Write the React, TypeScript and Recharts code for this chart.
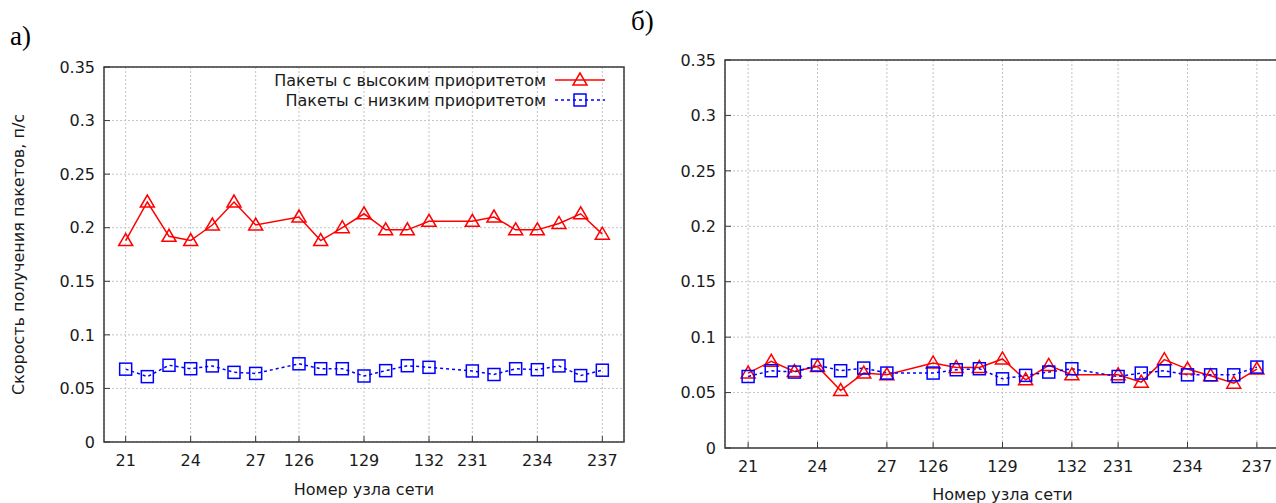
import { LineChart, Line, XAxis, YAxis, CartesianGrid, Legend, Label, ReferenceArea } from 'recharts';

// x slots: blanks separate the three node groups
const nodeSlots = ['21', '22', '23', '24', '25', '26', '27', '', '126', '127', '128', '129', '130', '131', '132', '', '231', '232', '233', '234', '235', '236', '237'];
const tickLabels = ['21', '24', '27', '126', '129', '132', '231', '234', '237'];
const yTicks = [0, 0.05, 0.1, 0.15, 0.2, 0.25, 0.3, 0.35];
const seriesNames = ['Пакеты с высоким приоритетом', 'Пакеты с низким приоритетом'];

// а)
const highA = [0.188, 0.224, 0.192, 0.188, 0.2025, 0.224, 0.2025, null, 0.21, 0.188, 0.2, 0.213, 0.198, 0.198, 0.206, null, 0.206, 0.21, 0.198, 0.198, 0.204, 0.213, 0.194];
const lowA = [0.068, 0.061, 0.0716, 0.0684, 0.071, 0.065, 0.064, null, 0.073, 0.0684, 0.0684, 0.0616, 0.0666, 0.0712, 0.0697, null, 0.0663, 0.063, 0.0684, 0.0675, 0.071, 0.062, 0.067];

// б)
const highB = [0.0676, 0.0782, 0.069, 0.0736, 0.0518, 0.0676, 0.066, null, 0.0767, 0.0727, 0.0727, 0.0803, 0.0615, 0.0745, 0.066, null, 0.066, 0.0594, 0.0797, 0.0712, 0.0652, 0.0585, 0.0712];
const lowB = [0.0645, 0.0697, 0.0685, 0.0748, 0.0697, 0.0721, 0.0676, null, 0.0676, 0.0706, 0.0715, 0.0624, 0.0655, 0.0685, 0.0715, null, 0.0645, 0.0676, 0.0697, 0.066, 0.066, 0.066, 0.073];

const FONT = '"DejaVu Sans", "Liberation Sans", Arial, sans-serif';
const RED = '#ff0000';
const BLUE = '#0000ff';
const BORDER = '#3a3a3a';
const TEXT = '#1a1a1a';
const xTicks = tickLabels.map(l => nodeSlots.indexOf(l));

function Triangle({ cx, cy }: { cx: number; cy: number }) {
  return <polygon points={`${cx},${cy - 7} ${cx - 7},${cy + 5} ${cx + 7},${cy + 5}`} fill="none" stroke={RED} strokeWidth={1.5} />;
}

function Square({ cx, cy }: { cx: number; cy: number }) {
  return <rect x={cx - 6} y={cy - 6} width={12} height={12} fill="none" stroke={BLUE} strokeWidth={1.5} />;
}

const triDot = (p: any) =>
  p.cx == null || p.cy == null || p.value == null ? <g key={`t${p.index}`} /> : <Triangle key={`t${p.index}`} cx={p.cx} cy={p.cy} />;
const sqDot = (p: any) =>
  p.cx == null || p.cy == null || p.value == null ? <g key={`s${p.index}`} /> : <Square key={`s${p.index}`} cx={p.cx} cy={p.cy} />;

function renderLegend() {
  return (
    <div style={{ fontFamily: FONT, fontSize: 16, color: TEXT }}>
      {seriesNames.map((name, i) => (
        <div key={name} style={{ display: 'flex', justifyContent: 'flex-end', alignItems: 'center', height: 20 }}>
          <span>{name}</span>
          <svg width={52} height={20} style={{ marginLeft: 8 }}>
            <line x1={1} x2={51} y1={10} y2={10} stroke={i === 0 ? RED : BLUE} strokeWidth={1.5} strokeDasharray={i === 0 ? undefined : '3 3'} />
            {i === 0 ? <Triangle cx={26} cy={10} /> : <Square cx={26} cy={10} />}
          </svg>
        </div>
      ))}
    </div>
  );
}

interface PanelProps {
  high: (number | null)[];
  low: (number | null)[];
  left: number;
  width: number;
  top: number;
  xAxisHeight: number;
  yAxisWidth: number;
  rightMargin: number;
  titleDy: number;
  yLabel?: string;
  legend?: boolean;
}

const tickLineStyle = { stroke: BORDER, strokeWidth: 1 };

function Panel(p: PanelProps) {
  const data = nodeSlots.map((node, i) => ({ x: i, node, high: p.high[i], low: p.low[i] }));
  return (
    <div style={{ position: 'absolute', left: p.left, top: 0 }}>
      <LineChart width={p.width} height={503} data={data} margin={{ top: p.top, right: p.rightMargin, bottom: 0, left: 0 }}>
        <CartesianGrid stroke="#c4c4c4" strokeDasharray="2 2" />
        <XAxis
          dataKey="x"
          type="number"
          domain={[-1, 23]}
          ticks={xTicks}
          tickFormatter={(v: number) => nodeSlots[v]}
          height={p.xAxisHeight}
          tickSize={-6}
          tickMargin={19}
          tickLine={tickLineStyle}
          axisLine={false}
          tick={{ fill: TEXT, fontSize: 16, fontFamily: FONT }}
          allowDataOverflow
        >
          <Label
            content={(props: any) => {
              const vb = props.viewBox || {};
              return (
                <text x={vb.x + vb.width / 2} y={vb.y + p.titleDy} textAnchor="middle" dominantBaseline="central" fill={TEXT} fontSize={16} fontFamily={FONT}>
                  Номер узла сети
                </text>
              );
            }}
          />
        </XAxis>
        <XAxis
          xAxisId="top"
          orientation="top"
          type="number"
          domain={[-1, 23]}
          ticks={xTicks}
          height={0}
          tick={false}
          tickSize={-6}
          tickLine={tickLineStyle}
          axisLine={false}
          allowDataOverflow
        />
        <YAxis
          type="number"
          domain={[0, 0.35]}
          ticks={yTicks}
          width={p.yAxisWidth}
          tickSize={-6}
          tickMargin={15}
          tickLine={tickLineStyle}
          axisLine={false}
          tick={{ fill: TEXT, fontSize: 16, fontFamily: FONT }}
          allowDataOverflow
        >
          {p.yLabel && (
            <Label
              content={(props: any) => {
                const vb = props.viewBox || {};
                const cx = vb.x + 18;
                const cy = vb.y + vb.height / 2;
                return (
                  <text x={cx} y={cy} transform={`rotate(-90, ${cx}, ${cy})`} textAnchor="middle" dominantBaseline="central" fill={TEXT} fontSize={16} fontFamily={FONT}>
                    {p.yLabel}
                  </text>
                );
              }}
            />
          )}
        </YAxis>
        <YAxis
          yAxisId="right"
          orientation="right"
          type="number"
          domain={[0, 0.35]}
          ticks={yTicks}
          width={0}
          tick={false}
          tickSize={-6}
          tickLine={tickLineStyle}
          axisLine={false}
          allowDataOverflow
        />
        <ReferenceArea x1={-1} x2={23} y1={0} y2={0.35} fill="none" stroke={BORDER} strokeWidth={1.5} ifOverflow="visible" />
        {p.legend && (
          <Legend
            layout="horizontal"
            verticalAlign="middle"
            align="center"
            content={renderLegend}
            wrapperStyle={{ top: 70, left: 220, width: 386 }}
          />
        )}
        <Line
          dataKey="high"
          name={seriesNames[0]}
          stroke={RED}
          strokeWidth={1.5}
          type="linear"
          connectNulls
          dot={triDot}
          activeDot={false}
          isAnimationActive={false}
        />
        <Line
          dataKey="low"
          name={seriesNames[1]}
          stroke={BLUE}
          strokeWidth={1.5}
          strokeDasharray="3 3"
          type="linear"
          connectNulls
          dot={sqDot}
          activeDot={false}
          isAnimationActive={false}
        />
      </LineChart>
    </div>
  );
}

export default function App() {
  return (
    <div style={{ position: 'absolute', left: 0, top: 0, width: 1276, height: 503, overflow: 'hidden', background: '#fff' }}>
      <Panel high={highA} low={lowA} left={0} width={640} top={67} xAxisHeight={61} yAxisWidth={104} rightMargin={16} titleDy={47} yLabel="Скорость получения пакетов, п/с" legend />
      <Panel high={highB} low={lowB} left={640} width={650} top={60} xAxisHeight={55} yAxisWidth={85} rightMargin={10} titleDy={46} />
      <div style={{ position: 'absolute', left: 10, top: 21, fontFamily: '"Liberation Serif", "Times New Roman", serif', fontSize: 27, color: '#000' }}>а)</div>
      <div style={{ position: 'absolute', left: 631, top: 6, fontFamily: '"Liberation Serif", "Times New Roman", serif', fontSize: 27, color: '#000' }}>б)</div>
    </div>
  );
}
